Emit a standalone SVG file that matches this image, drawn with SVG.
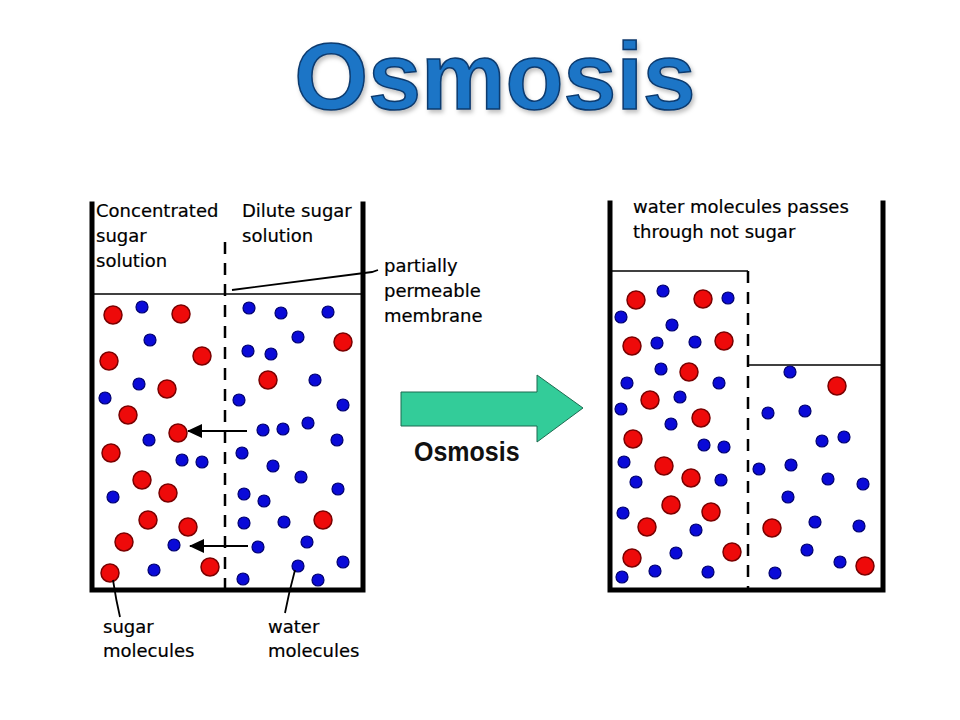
<svg xmlns="http://www.w3.org/2000/svg" width="960" height="720" viewBox="0 0 960 720">
<defs>
<style>
.wall{fill:none;stroke:#000;stroke-width:5;stroke-linecap:square}
.thin{fill:none;stroke:#000;stroke-width:1.5}
.dash{fill:none;stroke:#000;stroke-width:2.5;stroke-dasharray:12 9}
.lbl{font-family:"DejaVu Sans",Verdana,sans-serif;font-size:18px;fill:#000;stroke:#000;stroke-width:0.2}
.r{fill:#ee0a0a;stroke:#7a0000;stroke-width:1.5}
.b{fill:#0a0ad8;stroke:#000070;stroke-width:1.2}
.lead{fill:none;stroke:#000;stroke-width:1.8}
</style>
<marker id="ah" markerWidth="15" markerHeight="14" refX="14" refY="7" orient="auto" markerUnits="userSpaceOnUse" viewBox="0 0 15 14">
<path d="M0,0 L15,7 L0,14 Z" fill="#000"/>
</marker>
<filter id="sh" x="-5%" y="-5%" width="110%" height="115%">
<feDropShadow dx="2" dy="3" stdDeviation="2" flood-color="#000" flood-opacity="0.25"/>
</filter>
</defs>
<rect width="960" height="720" fill="#fff"/>

<g id="title">
<text x="495" y="109" text-anchor="middle" font-family="Liberation Sans,Arial,sans-serif" font-weight="bold" font-size="95" fill="#1a74c6" stroke="#0c3a6e" stroke-width="1.5" filter="url(#sh)">Osmosis</text>
</g>

<g id="beaker-left">
<path class="wall" d="M92,204 V590 H363 V204"/>
<line class="thin" x1="92" y1="294" x2="363" y2="294"/>
<line class="dash" x1="225" y1="242" x2="225" y2="590"/>
<text class="lbl" x="96" y="217" font-size="17">Concentrated</text>
<text class="lbl" x="96" y="242" font-size="17">sugar</text>
<text class="lbl" x="96" y="267" font-size="17">solution</text>
<text class="lbl" x="242" y="217" font-size="17">Dilute sugar</text>
<text class="lbl" x="242" y="242" font-size="17">solution</text>
<g id="left-sugar">
<circle class="r" cx="113" cy="315" r="9"/><circle class="r" cx="181" cy="314" r="9"/>
<circle class="r" cx="109" cy="361" r="9"/><circle class="r" cx="202" cy="356" r="9"/>
<circle class="r" cx="343" cy="342" r="9"/><circle class="r" cx="268" cy="380" r="9"/>
<circle class="r" cx="167" cy="389" r="9"/><circle class="r" cx="128" cy="415" r="9"/>
<circle class="r" cx="178" cy="433" r="9"/><circle class="r" cx="111" cy="453" r="9"/>
<circle class="r" cx="142" cy="480" r="9"/><circle class="r" cx="168" cy="493" r="9"/>
<circle class="r" cx="148" cy="520" r="9"/><circle class="r" cx="188" cy="527" r="9"/>
<circle class="r" cx="323" cy="520" r="9"/><circle class="r" cx="124" cy="542" r="9"/>
<circle class="r" cx="110" cy="573" r="9"/><circle class="r" cx="210" cy="567" r="9"/>
</g>
<g id="left-water">
<circle class="b" cx="142" cy="307" r="6"/><circle class="b" cx="150" cy="340" r="6"/>
<circle class="b" cx="139" cy="384" r="6"/><circle class="b" cx="105" cy="398" r="6"/>
<circle class="b" cx="249" cy="308" r="6"/><circle class="b" cx="281" cy="313" r="6"/>
<circle class="b" cx="328" cy="312" r="6"/><circle class="b" cx="298" cy="337" r="6"/>
<circle class="b" cx="248" cy="351" r="6"/><circle class="b" cx="271" cy="354" r="6"/>
<circle class="b" cx="315" cy="380" r="6"/><circle class="b" cx="239" cy="400" r="6"/>
<circle class="b" cx="343" cy="405" r="6"/><circle class="b" cx="149" cy="440" r="6"/>
<circle class="b" cx="263" cy="430" r="6"/><circle class="b" cx="283" cy="429" r="6"/>
<circle class="b" cx="308" cy="423" r="6"/><circle class="b" cx="337" cy="440" r="6"/>
<circle class="b" cx="182" cy="460" r="6"/><circle class="b" cx="202" cy="462" r="6"/>
<circle class="b" cx="242" cy="453" r="6"/><circle class="b" cx="273" cy="466" r="6"/>
<circle class="b" cx="301" cy="477" r="6"/><circle class="b" cx="113" cy="497" r="6"/>
<circle class="b" cx="244" cy="494" r="6"/><circle class="b" cx="264" cy="501" r="6"/>
<circle class="b" cx="338" cy="489" r="6"/><circle class="b" cx="244" cy="523" r="6"/>
<circle class="b" cx="284" cy="522" r="6"/><circle class="b" cx="174" cy="545" r="6"/>
<circle class="b" cx="258" cy="547" r="6"/><circle class="b" cx="307" cy="542" r="6"/>
<circle class="b" cx="154" cy="570" r="6"/><circle class="b" cx="243" cy="579" r="6"/>
<circle class="b" cx="298" cy="566" r="6"/><circle class="b" cx="318" cy="580" r="6"/>
<circle class="b" cx="343" cy="562" r="6"/>
</g>
</g>

<g id="connectors">
<line x1="247" y1="431" x2="188" y2="431" stroke="#000" stroke-width="2.2" marker-end="url(#ah)"/>
<line x1="248" y1="546" x2="190" y2="546" stroke="#000" stroke-width="2.2" marker-end="url(#ah)"/>
<path class="lead" d="M232,290 L372,272 L378,270"/>
<path class="lead" d="M113,580 Q116,600 120,617"/>
<path class="lead" d="M295,570 Q289,592 285,613"/>
</g>

<g id="labels">
<text class="lbl" x="384" y="272">partially</text>
<text class="lbl" x="384" y="297">permeable</text>
<text class="lbl" x="384" y="322">membrane</text>
<text class="lbl" x="103" y="633">sugar</text>
<text class="lbl" x="103" y="657">molecules</text>
<text class="lbl" x="268" y="633">water</text>
<text class="lbl" x="268" y="657">molecules</text>
</g>

<g id="osmosis-arrow">
<path d="M401,392 H537 V375 L583,408 L537,442 V426 H401 Z" fill="#33cc99" stroke="#1d6b50" stroke-width="1"/>
<text transform="translate(414,461) scale(1,1.12)" x="0" y="0" font-family="Liberation Sans,Arial,sans-serif" font-weight="bold" font-size="25" fill="#111">Osmosis</text>
</g>

<g id="beaker-right">
<path class="wall" d="M610,203 V590 H883 V203"/>
<path class="thin" d="M612,271 H748"/>
<path class="thin" d="M748,365 H883"/>
<line class="dash" x1="748" y1="271" x2="748" y2="590"/>
<text class="lbl" x="633" y="213" font-size="18.5">water molecules passes</text>
<text class="lbl" x="633" y="238" font-size="18.5">through not sugar</text>
<g id="right-sugar">
<circle class="r" cx="636" cy="300" r="9"/><circle class="r" cx="703" cy="299" r="9"/>
<circle class="r" cx="632" cy="346" r="9"/><circle class="r" cx="724" cy="341" r="9"/>
<circle class="r" cx="689" cy="372" r="9"/><circle class="r" cx="837" cy="386" r="9"/>
<circle class="r" cx="650" cy="400" r="9"/><circle class="r" cx="701" cy="418" r="9"/>
<circle class="r" cx="633" cy="439" r="9"/><circle class="r" cx="664" cy="466" r="9"/>
<circle class="r" cx="691" cy="478" r="9"/><circle class="r" cx="671" cy="505" r="9"/>
<circle class="r" cx="711" cy="512" r="9"/><circle class="r" cx="647" cy="527" r="9"/>
<circle class="r" cx="632" cy="558" r="9"/><circle class="r" cx="732" cy="552" r="9"/>
<circle class="r" cx="772" cy="528" r="9"/><circle class="r" cx="865" cy="566" r="9"/>
</g>
<g id="right-water">
<circle class="b" cx="663" cy="291" r="6"/><circle class="b" cx="728" cy="298" r="6"/>
<circle class="b" cx="621" cy="317" r="6"/><circle class="b" cx="672" cy="325" r="6"/>
<circle class="b" cx="657" cy="343" r="6"/><circle class="b" cx="695" cy="342" r="6"/>
<circle class="b" cx="661" cy="369" r="6"/><circle class="b" cx="627" cy="383" r="6"/>
<circle class="b" cx="719" cy="383" r="6"/><circle class="b" cx="790" cy="372" r="6"/>
<circle class="b" cx="680" cy="397" r="6"/><circle class="b" cx="621" cy="409" r="6"/>
<circle class="b" cx="671" cy="424" r="6"/><circle class="b" cx="704" cy="445" r="6"/>
<circle class="b" cx="724" cy="447" r="6"/><circle class="b" cx="624" cy="462" r="6"/>
<circle class="b" cx="636" cy="482" r="6"/><circle class="b" cx="721" cy="480" r="6"/>
<circle class="b" cx="623" cy="513" r="6"/><circle class="b" cx="696" cy="530" r="6"/>
<circle class="b" cx="676" cy="553" r="6"/><circle class="b" cx="655" cy="571" r="6"/>
<circle class="b" cx="708" cy="572" r="6"/><circle class="b" cx="622" cy="577" r="6"/>
<circle class="b" cx="768" cy="413" r="6"/><circle class="b" cx="805" cy="411" r="6"/>
<circle class="b" cx="822" cy="441" r="6"/><circle class="b" cx="844" cy="437" r="6"/>
<circle class="b" cx="759" cy="469" r="6"/><circle class="b" cx="791" cy="465" r="6"/>
<circle class="b" cx="828" cy="479" r="6"/><circle class="b" cx="863" cy="484" r="6"/>
<circle class="b" cx="788" cy="497" r="6"/><circle class="b" cx="815" cy="522" r="6"/>
<circle class="b" cx="859" cy="526" r="6"/><circle class="b" cx="807" cy="550" r="6"/>
<circle class="b" cx="840" cy="562" r="6"/><circle class="b" cx="775" cy="573" r="6"/>
</g>
</g>
</svg>
